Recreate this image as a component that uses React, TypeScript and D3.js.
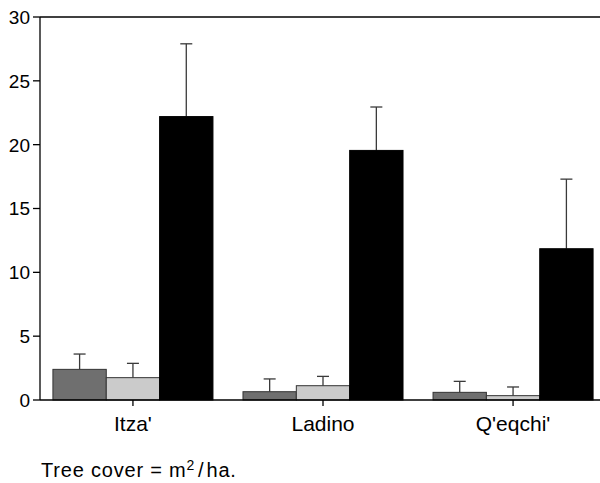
import * as d3 from "d3";

const groups = ["Itza'", "Ladino", "Q'eqchi'"];
const seriesKeys = ["s1", "s2", "s3"];
const seriesColors = ["#6f6f6f", "#cbcbcb", "#000000"];
// mean values per series, in group order
const s1Values = [2.4, 0.65, 0.6];
const s2Values = [1.75, 1.12, 0.34];
const s3Values = [22.2, 19.55, 11.85];
// upper error (SE) per series
const s1Errors = [1.2, 1.0, 0.86];
const s2Errors = [1.12, 0.73, 0.68];
const s3Errors = [5.7, 3.4, 5.45];
const yTicks = [0, 5, 10, 15, 20, 25, 30];
const note = "Tree cover = m";

const W = 600;
const H = 483;
const margin = { top: 17, left: 40, bottom: 83 };
const plotRight = 606;
const font = "'Liberation Sans', Arial, Helvetica, sans-serif";

export default function App() {
  const values = [s1Values, s2Values, s3Values];
  const errors = [s1Errors, s2Errors, s3Errors];

  const x0 = d3
    .scaleBand<string>()
    .domain(groups)
    .range([margin.left, plotRight])
    .paddingInner(0.158)
    .paddingOuter(0.068);
  const x1 = d3
    .scaleBand<string>()
    .domain(seriesKeys)
    .range([0, x0.bandwidth()]);
  const y = d3
    .scaleLinear()
    .domain([0, 30])
    .range([H - margin.bottom, margin.top]);

  const bars = groups.flatMap((g, gi) =>
    seriesKeys.map((k, si) => ({
      g,
      k,
      si,
      value: values[si][gi],
      err: errors[si][gi],
    }))
  );

  const y0 = y(0);
  const capHalf = 6;

  return (
    <div style={{ position: "absolute", left: 0, top: 0 }}>
      <svg width={W} height={H} style={{ display: "block", background: "#fff" }}>
        {/* error bars behind bars so only the upper part shows */}
        {bars.map((b) => {
          const cx = (x0(b.g) ?? 0) + (x1(b.k) ?? 0) + x1.bandwidth() / 2;
          return (
            <g key={`e-${b.g}-${b.k}`} stroke="#3a3a3a" strokeWidth={1.3}>
              <line x1={cx} x2={cx} y1={y(b.value)} y2={y(b.value + b.err)} />
              <line
                x1={cx - capHalf}
                x2={cx + capHalf}
                y1={y(b.value + b.err)}
                y2={y(b.value + b.err)}
              />
            </g>
          );
        })}
        {bars.map((b) => (
          <rect
            key={`b-${b.g}-${b.k}`}
            x={(x0(b.g) ?? 0) + (x1(b.k) ?? 0)}
            y={y(b.value)}
            width={x1.bandwidth()}
            height={y0 - y(b.value)}
            fill={seriesColors[b.si]}
            stroke={b.si === 2 ? "#000" : "#333"}
            strokeWidth={1}
          />
        ))}

        {/* frame lines */}
        <line x1={margin.left} x2={W} y1={y(30)} y2={y(30)} stroke="#000" strokeWidth={1.3} />
        <line x1={margin.left} x2={W} y1={y0} y2={y0} stroke="#000" strokeWidth={1.3} />
        <line x1={margin.left} x2={margin.left} y1={y(30)} y2={y0} stroke="#000" strokeWidth={1.3} />

        {/* y axis ticks */}
        {yTicks.map((t) => (
          <g key={`yt-${t}`}>
            <line x1={margin.left - 7} x2={margin.left} y1={y(t)} y2={y(t)} stroke="#000" strokeWidth={1.3} />
            <text
              x={margin.left - 10}
              y={y(t)}
              dy="0.36em"
              textAnchor="end"
              fontFamily={font}
              fontSize={19}
              fill="#000"
            >
              {t}
            </text>
          </g>
        ))}

        {/* x axis ticks */}
        {groups.map((g) => {
          const cx = (x0(g) ?? 0) + x0.bandwidth() / 2;
          return (
            <g key={`xt-${g}`}>
              <line x1={cx} x2={cx} y1={y0} y2={y0 + 6} stroke="#000" strokeWidth={1.3} />
              <text
                x={cx}
                y={431}
                textAnchor="middle"
                fontFamily={font}
                fontSize={21}
                fill="#000"
              >
                {g}
              </text>
            </g>
          );
        })}

        <text x={41} y={477} fontFamily={font} fontSize={20} letterSpacing={0.8} fill="#000">
          {note}
          <tspan dy={-7} fontSize={14}>2</tspan>
          <tspan dy={7} dx={3}>/</tspan>
          <tspan dx={2}>ha.</tspan>
        </text>
      </svg>
    </div>
  );
}
